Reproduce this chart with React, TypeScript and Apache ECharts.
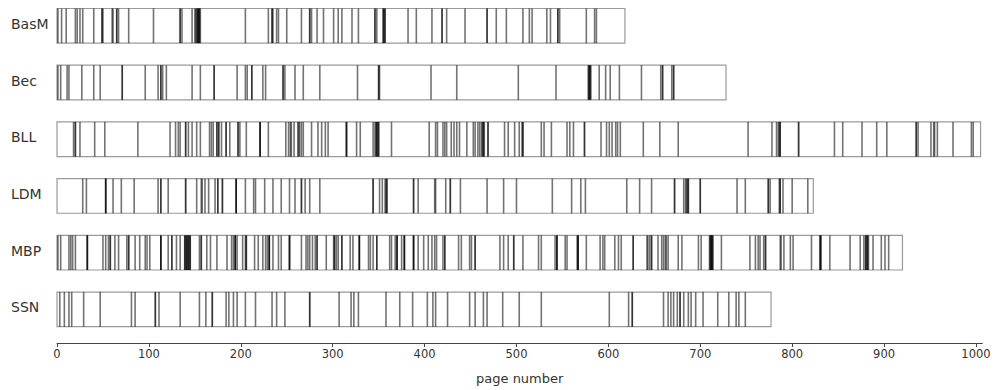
import React, { useEffect, useRef } from "react";
import * as echarts from "echarts";

const rowNames = ["BasM", "Bec", "BLL", "LDM", "MBP", "SSN"];
const rowLengths = [618, 728, 1005, 823, 920, 777];

const basmPages = [1, 5, 10, 20, 22, 25, 28, 40, 49, 49, 50, 60, 61, 65, 65, 67, 78, 105, 134, 134, 136, 147, 150, 151, 152, 153, 153, 154, 154, 155, 155, 156, 205, 230, 234, 234, 235, 239, 241, 250, 266, 275, 275, 277, 283, 290, 301, 306, 310, 321, 328, 346, 346, 348, 355, 355, 356, 357, 357, 382, 391, 408, 419, 419, 424, 444, 468, 468, 478, 489, 507, 514, 517, 533, 537, 545, 545, 547, 576, 585, 587];
const becPages = [1, 4, 11, 13, 27, 40, 47, 71, 71, 96, 110, 113, 113, 115, 119, 147, 156, 171, 171, 196, 205, 207, 212, 212, 224, 227, 246, 246, 248, 259, 268, 286, 327, 350, 350, 351, 407, 435, 502, 543, 578, 579, 579, 580, 580, 581, 590, 597, 602, 612, 636, 657, 659, 659, 669, 671, 671];
const bllPages = [18, 20, 20, 25, 41, 52, 88, 123, 129, 132, 134, 140, 140, 143, 147, 152, 156, 166, 168, 170, 174, 174, 176, 176, 179, 184, 184, 188, 197, 197, 199, 206, 221, 221, 221, 230, 249, 252, 254, 255, 258, 262, 263, 264, 266, 268, 277, 284, 288, 292, 295, 315, 315, 315, 326, 330, 344, 346, 347, 348, 348, 349, 350, 350, 364, 405, 412, 414, 420, 422, 424, 429, 432, 435, 438, 446, 453, 455, 458, 460, 462, 463, 464, 464, 465, 469, 469, 487, 491, 498, 503, 506, 507, 507, 527, 530, 538, 555, 558, 562, 574, 574, 592, 598, 601, 604, 608, 610, 613, 638, 656, 676, 752, 778, 783, 785, 786, 787, 787, 807, 807, 846, 855, 876, 892, 903, 935, 935, 937, 951, 954, 955, 958, 975, 995, 997];
const ldmPages = [28, 32, 53, 53, 53, 61, 70, 84, 110, 113, 113, 121, 140, 140, 152, 157, 158, 161, 165, 172, 175, 175, 180, 180, 195, 195, 195, 205, 214, 216, 226, 235, 244, 253, 259, 266, 266, 270, 275, 286, 344, 344, 351, 354, 357, 358, 359, 359, 388, 388, 393, 411, 412, 423, 428, 428, 439, 468, 486, 500, 539, 560, 570, 575, 620, 634, 647, 672, 672, 682, 684, 685, 686, 687, 687, 700, 700, 740, 749, 774, 774, 776, 786, 787, 787, 790, 800, 817];
const mbpPages = [1, 4, 13, 15, 17, 20, 33, 33, 33, 50, 53, 56, 58, 58, 63, 67, 76, 78, 78, 85, 90, 96, 98, 101, 113, 113, 113, 121, 125, 125, 130, 134, 139, 140, 141, 142, 143, 144, 145, 139, 141, 143, 145, 155, 157, 157, 163, 167, 174, 185, 190, 192, 194, 194, 194, 196, 202, 205, 206, 206, 215, 219, 224, 227, 229, 231, 231, 231, 235, 241, 244, 253, 253, 253, 266, 271, 273, 275, 278, 281, 283, 283, 293, 301, 302, 302, 304, 306, 310, 310, 319, 322, 329, 329, 329, 339, 341, 344, 348, 348, 362, 364, 368, 370, 370, 370, 375, 378, 378, 378, 388, 388, 388, 393, 399, 404, 408, 411, 413, 420, 422, 422, 437, 440, 449, 451, 455, 455, 482, 486, 491, 497, 497, 507, 524, 527, 542, 544, 544, 544, 553, 555, 566, 567, 567, 567, 576, 591, 594, 596, 607, 611, 614, 627, 627, 642, 643, 645, 647, 647, 654, 658, 660, 662, 663, 665, 676, 680, 698, 701, 710, 711, 712, 713, 714, 711, 712, 713, 723, 754, 760, 763, 765, 769, 771, 771, 787, 788, 791, 798, 801, 821, 830, 831, 831, 831, 841, 863, 874, 878, 880, 881, 882, 883, 880, 882, 888, 897, 901, 905];
const ssnPages = [3, 8, 13, 16, 29, 47, 81, 85, 107, 107, 111, 134, 155, 162, 169, 169, 184, 187, 192, 196, 205, 216, 234, 239, 248, 275, 275, 307, 320, 323, 328, 358, 373, 387, 403, 409, 412, 425, 449, 455, 464, 468, 485, 503, 527, 601, 622, 626, 626, 660, 665, 668, 671, 675, 678, 678, 682, 687, 690, 695, 703, 719, 731, 739, 742, 749];

const pageLists = [basmPages, becPages, bllPages, ldmPages, mbpPages, ssnPages];
const xTicks = [0, 100, 200, 300, 400, 500, 600, 700, 800, 900, 1000];

const HALF = 0.305;

export default function App() {
  const ref = useRef<HTMLDivElement>(null);
  useEffect(() => {
    const chart = echarts.init(ref.current!, null, { renderer: "svg" });
    const boxData = rowLengths.map((len, i) => [len, i]);
    const lineData: number[][] = [];
    pageLists.forEach((pages, i) => pages.forEach((p) => lineData.push([p, i])));
    chart.setOption({
      animation: false,
      grid: { left: 57, right: 18.6, top: 8, bottom: 43, containLabel: false },
      xAxis: {
        type: "value",
        position: "bottom",
        min: 0,
        max: 1007,
        interval: 100,
        splitLine: { show: false },
        axisLine: { onZero: false, lineStyle: { color: "#444", width: 1 } },
        axisTick: { customValues: xTicks, length: 4, lineStyle: { color: "#444" } },
        axisLabel: {
          customValues: xTicks,
          fontSize: 11.5,
          color: "#333",
          margin: 5,
          fontFamily: "DejaVu Sans",
          formatter: (v: number) => String(v),
        },
        name: "page number",
        nameLocation: "middle",
        nameGap: 29,
        nameTextStyle: { fontSize: 13, color: "#333", fontFamily: "DejaVu Sans" },
      },
      yAxis: { type: "value", min: -0.3136, max: 5.592, inverse: true, show: false },
      series: [
        {
          type: "custom",
          data: boxData,
          z: 1,
          renderItem: (params: any, api: any) => {
            const len = api.value(0);
            const row = api.value(1);
            const p0 = api.coord([0, row - HALF]);
            const p1 = api.coord([len, row + HALF]);
            return {
              type: "group",
              children: [
                {
                  type: "rect",
                  shape: { x: p0[0], y: p0[1], width: p1[0] - p0[0], height: p1[1] - p0[1] },
                  style: { fill: "#fff", stroke: "#9a9a9a", lineWidth: 1.2 },
                },
                {
                  type: "text",
                  x: 11,
                  y: (p0[1] + p1[1]) / 2 - 2,
                  style: {
                    text: rowNames[row],
                    fill: "#333",
                    fontSize: 14,
                    fontFamily: "DejaVu Sans",
                    align: "left",
                    verticalAlign: "middle",
                  },
                },
              ],
            };
          },
        },
        {
          type: "custom",
          data: lineData,
          z: 2,
          renderItem: (params: any, api: any) => {
            const p = api.value(0);
            const row = api.value(1);
            const a = api.coord([p, row - HALF]);
            const b = api.coord([p, row + HALF]);
            return {
              type: "line",
              shape: { x1: a[0], y1: a[1], x2: b[0], y2: b[1] },
              style: { stroke: "#000", opacity: 0.55, lineWidth: 1.6 },
            };
          },
        },
      ],
    });
    return () => chart.dispose();
  }, []);
  return <div ref={ref} style={{ position: "absolute", left: 0, top: 0, width: 1001, height: 390 }} />;
}
